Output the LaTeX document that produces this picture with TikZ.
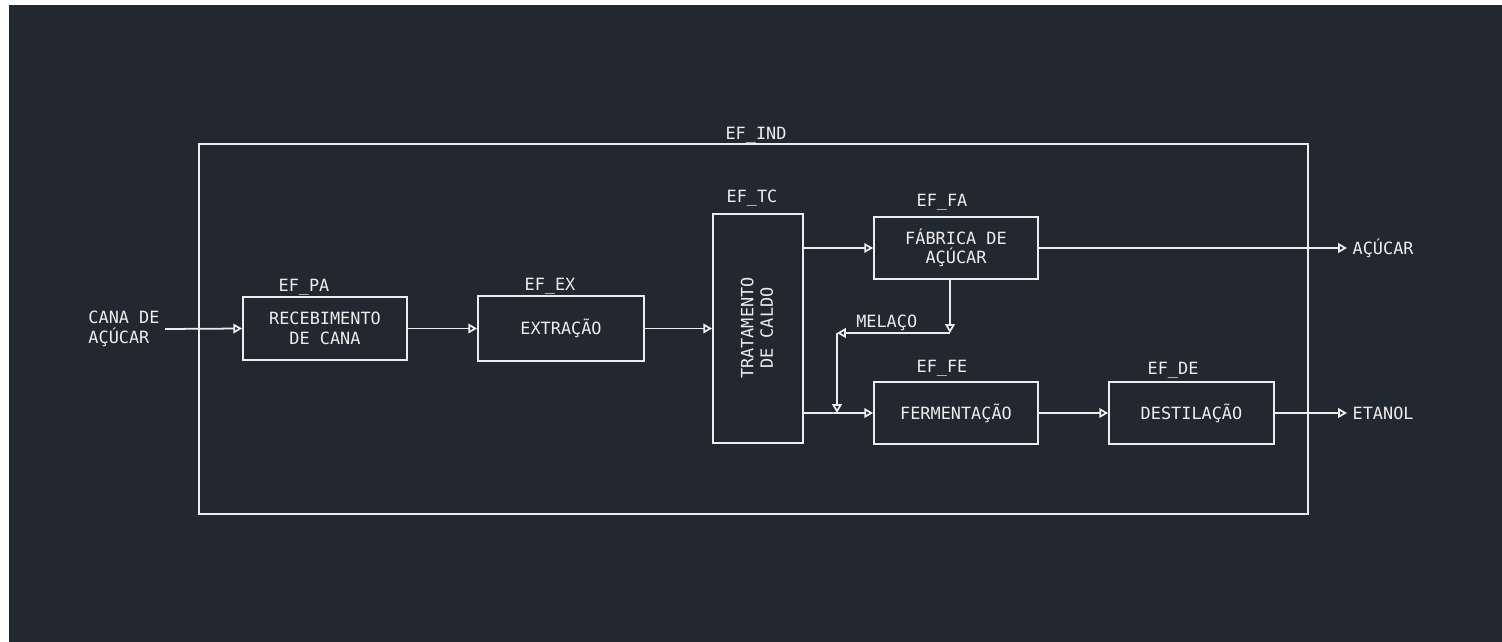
\documentclass[tikz,border=0pt]{standalone}
\usepackage{fontspec}
\setmonofont{DejaVu Sans Mono}
\usetikzlibrary{arrows.meta}

\definecolor{cadbg}{HTML}{22282F}
\definecolor{cadline}{HTML}{EDEDED}
\newcommand{\cadfont}{\ttfamily\fontsize{9.6}{11}\selectfont}

\tikzset{
  block/.style={draw=cadline, line width=1pt, text=cadline, align=center, inner sep=0pt},
  tag/.style={text=cadline, inner sep=1pt},
  flow/.style={draw=cadline, line width=1pt, -{Triangle[open, length=5pt, width=5.5pt]}},
}

\begin{document}
\begin{tikzpicture}[x=0.2mm, y=-0.2mm, every node/.style={font=\cadfont}]
    \useasboundingbox (0,0) rectangle (1502,642);
    \fill[white] (0,0) rectangle (1502,642);
    \fill[cadbg] (9,5) rectangle (1502,642);

    % Industry boundary
    \draw[cadline, line width=1pt] (199,144) rectangle (1308,514);
    \node[tag] (tind) at (756,135) {EF\_IND};

    % Blocks
    \node[block, minimum width=32.8mm, minimum height=12.6mm] (pa) at (325,328.5) {RECEBIMENTO\\DE CANA};
    \node[block, minimum width=33.2mm, minimum height=13mm] (ex) at (561,328.5) {EXTRAÇÃO};
    \node[block, minimum width=18mm, minimum height=45.8mm] (tc) at (758,328.5) {};
    \node[text=cadline, rotate=90, align=center] (tctext) at (757,328) {TRATAMENTO\\DE CALDO};
    \node[block, minimum width=32.8mm, minimum height=12.4mm] (fa) at (956,248) {FÁBRICA DE\\AÇÚCAR};
    \node[block, minimum width=32.8mm, minimum height=12.4mm] (fe) at (956,413) {FERMENTAÇÃO};
    \node[block, minimum width=33mm, minimum height=12.4mm] (de) at (1191.5,413) {DESTILAÇÃO};

    % Tags
    \node[tag] (tpa) at (304,287) {EF\_PA};
    \node[tag] (tex) at (550,286) {EF\_EX};
    \node[tag] (ttc) at (752,198) {EF\_TC};
    \node[tag] (tfa) at (942,202) {EF\_FA};
    \node[tag] (tfe) at (942,368) {EF\_FE};
    \node[tag] (tde) at (1173,370) {EF\_DE};

    % Inputs and outputs
    \node[tag, align=left, inner sep=3pt] (cane) at (124,329) {CANA DE\\AÇÚCAR};
    \node[tag, anchor=west, inner sep=3pt] (sugar) at (1347,248) {AÇÚCAR};
    \node[tag, anchor=west, inner sep=3pt] (ethanol) at (1347,413) {ETANOL};

    % Flows
    \draw[flow] (cane.east) -- (pa.west);
    \draw[flow] (pa.east) -- (ex.west);
    \draw[flow] (ex.east) -- (tc.west |- ex.east);
    \draw[flow] (tc.east |- fa.west) -- (fa.west);
    \draw[flow] (tc.east |- fe.west) -- (fe.west);
    \draw[flow] (fe.east) -- (de.west);
    \draw[flow] (fa.east) -- (sugar.west);
    \draw[flow] (de.east) -- (ethanol.west);

    % Molasses recycle
    \coordinate (mtop) at (950,333);
    \coordinate (mleft) at (837,333);
    \draw[flow] (fa.south -| mtop) -- (mtop);
    \draw[flow] (mtop) -- (mleft) node[tag, above, pos=0.56] {MELAÇO};
    \draw[flow] (mleft) -- (mleft |- fe.west);
\end{tikzpicture}
\end{document}
